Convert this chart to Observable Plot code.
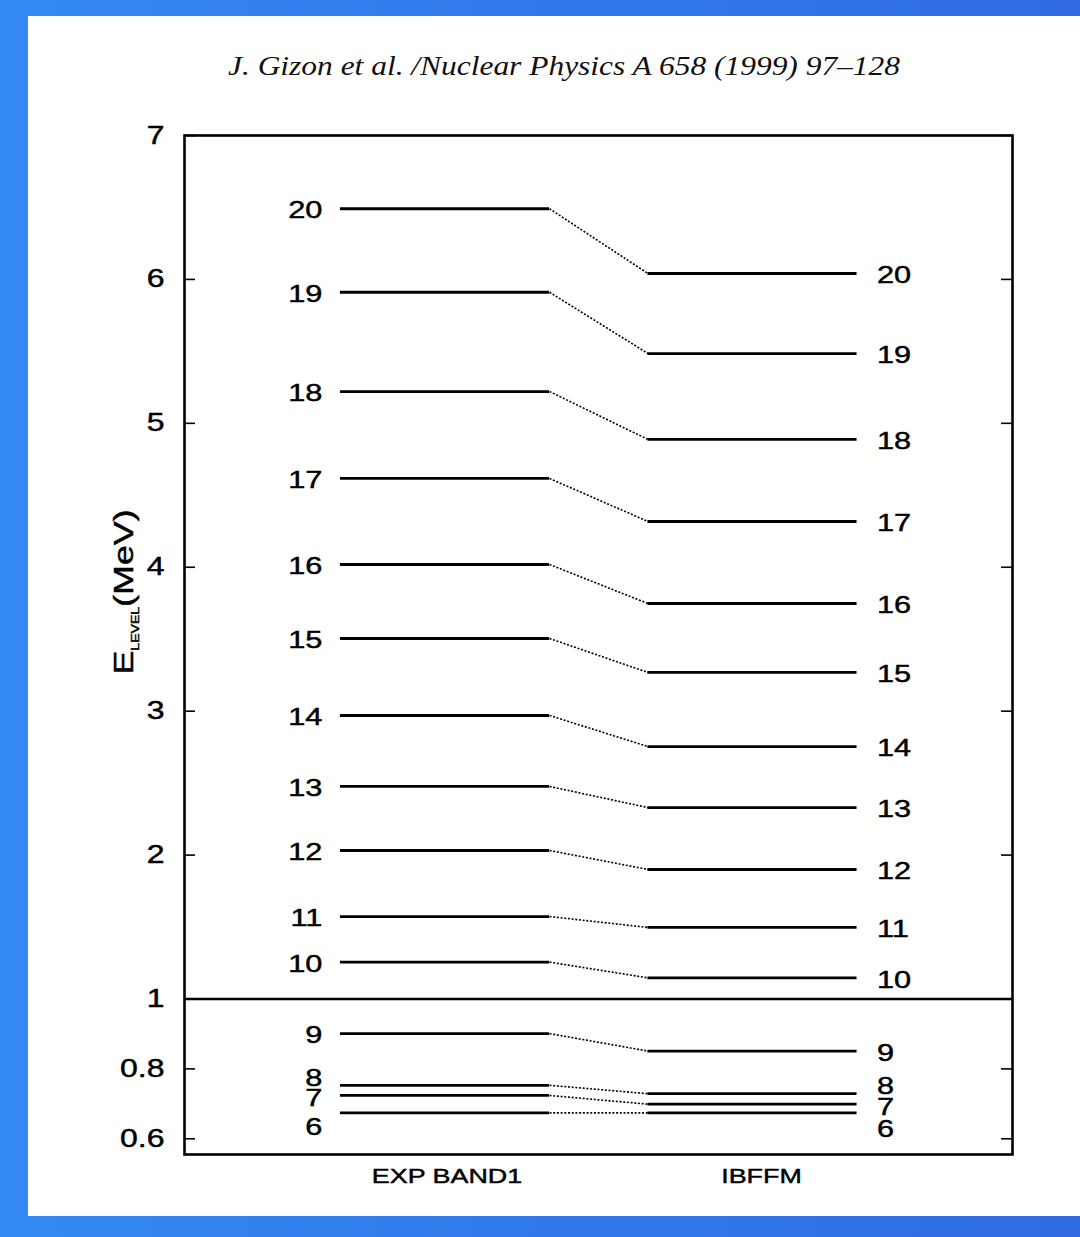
<!DOCTYPE html>
<html>
<head>
<meta charset="utf-8">
<script src="https://cdn.jsdelivr.net/npm/d3@7"></script>
<script src="https://cdn.jsdelivr.net/npm/@observablehq/plot@0.6"></script>
<style>
  html, body { margin: 0; padding: 0; width: 1080px; height: 1237px; overflow: hidden;
    background: linear-gradient(90deg, #3489f4, #2f6ae2); }
  #paper { position: absolute; left: 28px; top: 16px; width: 1052px; height: 1200px; background: #fff; }
  #title { position: absolute; left: 228px; top: 52px; font-family: "Liberation Serif", "DejaVu Serif", serif;
    font-style: italic; font-size: 28px; line-height: 28px; white-space: nowrap; color: #111; transform-origin: 0 0; }
  #chart { position: absolute; left: 28px; top: 100px; }
</style>
</head>
<body>
<div id="paper"></div>
<div id="title"></div>
<div id="chart"></div>
<script>
// ---- data ----
const titleText = "J. Gizon et al. /Nuclear Physics A 658 (1999) 97–128";
const columns = ["EXP BAND1", "IBFFM"];
const spins = [6, 7, 8, 9, 10, 11, 12, 13, 14, 15, 16, 17, 18, 19, 20];
const expBand1 = [0.674, 0.724, 0.753, 0.901, 1.256, 1.573, 2.032, 2.477, 2.970, 3.505, 4.019, 4.617, 5.221, 5.911, 6.491];
const ibffm    = [0.674, 0.699, 0.729, 0.851, 1.147, 1.497, 1.900, 2.330, 2.754, 3.269, 3.748, 4.318, 4.888, 5.485, 6.041];
const yTicks = [0.6, 0.8, 1, 2, 3, 4, 5, 6, 7];
const yBreak = 1;            // energy where the scale changes (MeV)
const yDomain = [0.555, yBreak, 7];

// ---- layout / style ----
const W = 1052, H = 1116;
const mL = 156, mR = 68, mT = 35, mB = 62;
const breakPx = 898.5;       // pixel row of the scale break
const hw = 0.34;             // half-length of a level line, in column units
const SX = 1.28;             // horizontal stretch of the sans-serif lettering
const innerW = W - mL - mR;

const levels = spins.map((s, i) => ({spin: s, exp: expBand1[i], ibffm: ibffm[i]}));

const nudgeExp = d => d.spin === 8 ? -7 : d.spin === 7 ? 3 : d.spin === 6 ? 14 : 2;
const nudgeTh  = d => d.spin === 8 ? -7 : d.spin === 7 ? 3 : d.spin === 6 ? 16 : 2;

const labelMarks = [];
for (const [dy, rows] of d3.group(levels, nudgeExp)) {
  labelMarks.push(Plot.text(rows, {x: -hw, y: "exp", text: d => String(d.spin), textAnchor: "end", dx: -18, dy, fontSize: 24, fill: "#000"}));
}
for (const [dy, rows] of d3.group(levels, nudgeTh)) {
  labelMarks.push(Plot.text(rows, {x: 1 + hw, y: "ibffm", text: d => String(d.spin), textAnchor: "start", dx: 20, dy, fontSize: 24, fill: "#000"}));
}

const chart = Plot.plot({
  width: W, height: H,
  marginLeft: mL, marginRight: mR, marginTop: mT, marginBottom: mB,
  style: {fontFamily: "'Liberation Sans', Arial, sans-serif", fontSize: "24px", color: "#000", background: "transparent", overflow: "visible"},
  x: {type: "linear", domain: [-0.847, 1.8455]},
  y: {type: "linear", domain: yDomain, range: [H - mB, breakPx, mT]},
  marks: [
    Plot.frame({stroke: "#000", strokeWidth: 2.6}),
    Plot.ruleY([yBreak], {stroke: "#000", strokeWidth: 2.6}),
    Plot.tickY(yTicks, {y: d => d, insetRight: innerW - 11, stroke: "#000", strokeWidth: 1.6}),
    Plot.tickY(yTicks, {y: d => d, insetLeft: innerW - 11, stroke: "#000", strokeWidth: 1.6}),
    Plot.axisY(yTicks, {tickSize: 0, tickPadding: 20, tickFormat: d => String(d), fontSize: 25, label: null, fill: "#000"}),
    Plot.axisX([0], {tickSize: 0, tickPadding: 14, tickFormat: i => columns[i], fontSize: 21, label: null, fill: "#000", dx: 2}),
    Plot.axisX([1], {tickSize: 0, tickPadding: 14, tickFormat: i => columns[i], fontSize: 21, label: null, fill: "#000", dx: 9}),
    Plot.ruleY(levels, {y: "exp", x1: -hw, x2: hw, stroke: "#000", strokeWidth: 2.8}),
    Plot.ruleY(levels, {y: "ibffm", x1: 1 - hw, x2: 1 + hw, stroke: "#000", strokeWidth: 2.8}),
    Plot.link(levels, {x1: hw, x2: 1 - hw, y1: "exp", y2: "ibffm", stroke: "#000", strokeWidth: 1.6, strokeDasharray: "2,1.7"}),
    ...labelMarks
  ]
});

// widen the lettering like the original sans-serif face (x-only stretch about each anchor)
d3.select(chart).selectAll("text").each(function () {
  const t = this.getAttribute("transform") || "";
  this.setAttribute("transform", (t + ` scale(${SX},1)`).trim());
  this.setAttribute("stroke", "#000");
  this.setAttribute("stroke-width", 0.45);
});

// y-axis title with subscript
const yl = d3.select(chart).append("text")
  .attr("transform", `translate(105,492) rotate(-90) scale(${SX},1)`)
  .attr("text-anchor", "middle")
  .attr("font-family", "'Liberation Sans', Arial, sans-serif")
  .attr("font-size", 28).attr("fill", "#000")
  .attr("stroke", "#000").attr("stroke-width", 0.45);
yl.append("tspan").text("E");
yl.append("tspan").attr("font-size", 11).attr("dy", 6).text("LEVEL");
yl.append("tspan").attr("dy", -6).text("(MeV)");

document.getElementById("chart").appendChild(chart);

const tEl = document.getElementById("title");
tEl.textContent = titleText;
const tw = tEl.getBoundingClientRect().width;
tEl.style.transform = `scaleX(${672 / tw})`;
</script>
</body>
</html>
